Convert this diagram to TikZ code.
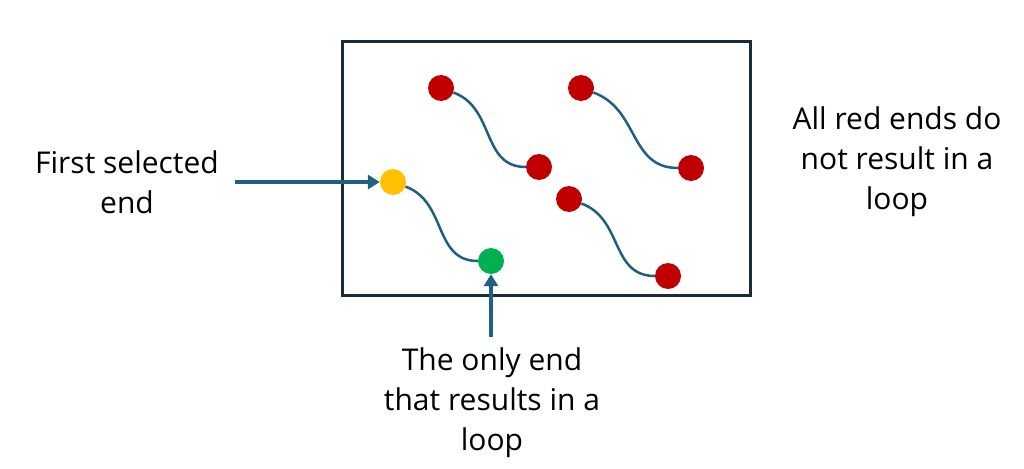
\documentclass[tikz,border=0pt]{standalone}
\usepackage{fontspec}
\setmainfont{Open Sans}
\usetikzlibrary{arrows.meta}
\definecolor{frame}{HTML}{1A2B3A}
\definecolor{link}{HTML}{1F5F80}
\definecolor{redend}{HTML}{C00000}
\definecolor{yellowend}{HTML}{FFC000}
\definecolor{greenend}{HTML}{00B050}
\tikzset{
  endpt/.style={circle,minimum size=26pt,inner sep=0pt,fill=#1},
  strand/.style={draw=link,line width=2.5pt},
  pointer/.style={draw=link,line width=4pt,-{Triangle[length=12pt,width=14pt]}},
  label/.style={font=\fontsize{30}{40}\selectfont,align=center,text=black}
}
\begin{document}
\begin{tikzpicture}[x=1pt,y=-1pt]
\useasboundingbox (0,0) rectangle (1024,468);
\node[draw=frame,line width=3pt,minimum width=408pt,minimum height=253pt,inner sep=0pt] (box) at (546,168.5) {};
% strands
\node[endpt=redend] (a1) at (441,88) {};
\node[endpt=redend] (a2) at (539,167) {};
\node[endpt=redend] (b1) at (581,88) {};
\node[endpt=redend] (b2) at (691,168) {};
\node[endpt=redend] (c1) at (569,199) {};
\node[endpt=redend] (c2) at (668,276) {};
\node[endpt=yellowend] (d1) at (393,182) {};
\node[endpt=greenend] (d2) at (491,261) {};
\draw[strand] (a1) to[out=-20,in=180,looseness=1.1] (a2);
\draw[strand] (b1) to[out=-20,in=180,looseness=1.1] (b2);
\draw[strand] (c1) to[out=-20,in=180,looseness=1.1] (c2);
\draw[strand] (d1) to[out=-20,in=180,looseness=1.1] (d2);
% labels
\node[label] (t1) at (127,182) {First selected\\end};
\node[label] (t2) at (897,162) {All red ends do\\not result in a\\loop};
\node[label] (t3) at (492,403) {The only end\\that results in a\\loop};
\coordinate (s1) at (235,182);
\coordinate (s2) at (491,337);
\draw[pointer] (s1) -- (d1);
\draw[pointer] (s2) -- (d2);
\end{tikzpicture}
\end{document}
